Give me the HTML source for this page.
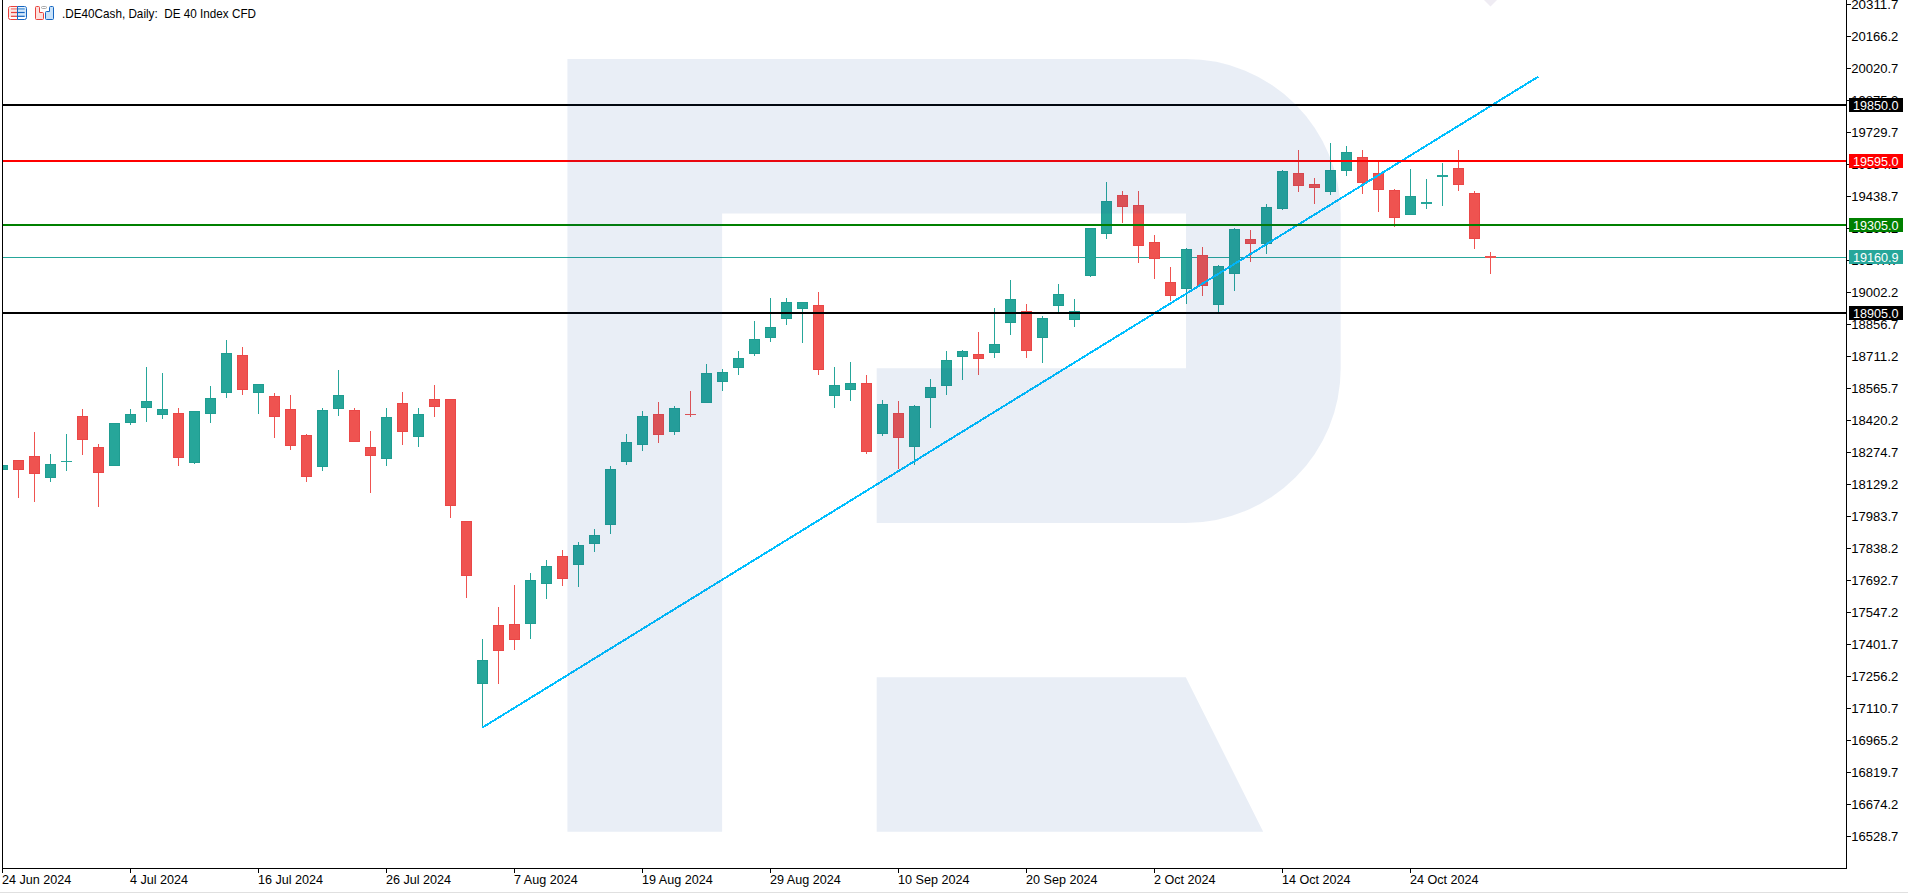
<!DOCTYPE html>
<html><head><meta charset="utf-8"><title>.DE40Cash, Daily</title>
<style>
html,body{margin:0;padding:0;background:#fff;}
body{width:1908px;height:893px;overflow:hidden;position:relative;}
svg{position:absolute;left:0;top:0;display:block;}
.t{font-family:"Liberation Sans",Arial,sans-serif;font-size:12.6px;fill:#000;}
.w{font-family:"Liberation Sans",Arial,sans-serif;font-size:12.6px;fill:#fff;}
</style></head>
<body>
<svg width="1908" height="893" viewBox="0 0 1908 893">
<rect x="0" y="0" width="1908" height="893" fill="#ffffff"/>
<rect x="0" y="892" width="1908" height="1" fill="#e0e0e0"/>
<defs><clipPath id="ca"><rect x="3" y="0" width="1843" height="868"/></clipPath></defs>
<g shape-rendering="crispEdges" clip-path="url(#ca)">
<!-- current price line -->
<rect x="3" y="257" width="1843" height="1" fill="#26a69a"/>
<rect x="2" y="465" width="1" height="5" fill="#26a69a"/>
<rect x="-3" y="465" width="11" height="5" fill="#1f9d91"/>
<rect x="-2" y="466" width="9" height="3" fill="#26a69a"/>
<rect x="18" y="460" width="1" height="38" fill="#ef5350"/>
<rect x="13" y="460" width="11" height="10" fill="#ea4747"/>
<rect x="14" y="461" width="9" height="8" fill="#ef5350"/>
<rect x="34" y="432" width="1" height="70" fill="#ef5350"/>
<rect x="29" y="456" width="11" height="18" fill="#ea4747"/>
<rect x="30" y="457" width="9" height="16" fill="#ef5350"/>
<rect x="50" y="454" width="1" height="28" fill="#26a69a"/>
<rect x="45" y="464" width="11" height="14" fill="#1f9d91"/>
<rect x="46" y="465" width="9" height="12" fill="#26a69a"/>
<rect x="66" y="434" width="1" height="37" fill="#26a69a"/>
<rect x="61" y="461" width="11" height="1" fill="#26a69a"/>
<rect x="82" y="409" width="1" height="46" fill="#ef5350"/>
<rect x="77" y="416" width="11" height="24" fill="#ea4747"/>
<rect x="78" y="417" width="9" height="22" fill="#ef5350"/>
<rect x="98" y="444" width="1" height="63" fill="#ef5350"/>
<rect x="93" y="447" width="11" height="26" fill="#ea4747"/>
<rect x="94" y="448" width="9" height="24" fill="#ef5350"/>
<rect x="114" y="423" width="1" height="43" fill="#26a69a"/>
<rect x="109" y="423" width="11" height="43" fill="#1f9d91"/>
<rect x="110" y="424" width="9" height="41" fill="#26a69a"/>
<rect x="130" y="409" width="1" height="16" fill="#26a69a"/>
<rect x="125" y="414" width="11" height="9" fill="#1f9d91"/>
<rect x="126" y="415" width="9" height="7" fill="#26a69a"/>
<rect x="146" y="367" width="1" height="55" fill="#26a69a"/>
<rect x="141" y="401" width="11" height="7" fill="#1f9d91"/>
<rect x="142" y="402" width="9" height="5" fill="#26a69a"/>
<rect x="162" y="373" width="1" height="46" fill="#26a69a"/>
<rect x="157" y="409" width="11" height="6" fill="#1f9d91"/>
<rect x="158" y="410" width="9" height="4" fill="#26a69a"/>
<rect x="178" y="408" width="1" height="58" fill="#ef5350"/>
<rect x="173" y="413" width="11" height="45" fill="#ea4747"/>
<rect x="174" y="414" width="9" height="43" fill="#ef5350"/>
<rect x="194" y="411" width="1" height="53" fill="#26a69a"/>
<rect x="189" y="411" width="11" height="52" fill="#1f9d91"/>
<rect x="190" y="412" width="9" height="50" fill="#26a69a"/>
<rect x="210" y="386" width="1" height="37" fill="#26a69a"/>
<rect x="205" y="398" width="11" height="16" fill="#1f9d91"/>
<rect x="206" y="399" width="9" height="14" fill="#26a69a"/>
<rect x="226" y="340" width="1" height="58" fill="#26a69a"/>
<rect x="221" y="353" width="11" height="40" fill="#1f9d91"/>
<rect x="222" y="354" width="9" height="38" fill="#26a69a"/>
<rect x="242" y="347" width="1" height="48" fill="#ef5350"/>
<rect x="237" y="355" width="11" height="35" fill="#ea4747"/>
<rect x="238" y="356" width="9" height="33" fill="#ef5350"/>
<rect x="258" y="384" width="1" height="30" fill="#26a69a"/>
<rect x="253" y="384" width="11" height="9" fill="#1f9d91"/>
<rect x="254" y="385" width="9" height="7" fill="#26a69a"/>
<rect x="274" y="393" width="1" height="45" fill="#ef5350"/>
<rect x="269" y="396" width="11" height="21" fill="#ea4747"/>
<rect x="270" y="397" width="9" height="19" fill="#ef5350"/>
<rect x="290" y="395" width="1" height="55" fill="#ef5350"/>
<rect x="285" y="409" width="11" height="37" fill="#ea4747"/>
<rect x="286" y="410" width="9" height="35" fill="#ef5350"/>
<rect x="306" y="434" width="1" height="48" fill="#ef5350"/>
<rect x="301" y="435" width="11" height="42" fill="#ea4747"/>
<rect x="302" y="436" width="9" height="40" fill="#ef5350"/>
<rect x="322" y="408" width="1" height="63" fill="#26a69a"/>
<rect x="317" y="410" width="11" height="57" fill="#1f9d91"/>
<rect x="318" y="411" width="9" height="55" fill="#26a69a"/>
<rect x="338" y="370" width="1" height="46" fill="#26a69a"/>
<rect x="333" y="395" width="11" height="14" fill="#1f9d91"/>
<rect x="334" y="396" width="9" height="12" fill="#26a69a"/>
<rect x="354" y="408" width="1" height="34" fill="#ef5350"/>
<rect x="349" y="410" width="11" height="32" fill="#ea4747"/>
<rect x="350" y="411" width="9" height="30" fill="#ef5350"/>
<rect x="370" y="431" width="1" height="62" fill="#ef5350"/>
<rect x="365" y="447" width="11" height="9" fill="#ea4747"/>
<rect x="366" y="448" width="9" height="7" fill="#ef5350"/>
<rect x="386" y="408" width="1" height="58" fill="#26a69a"/>
<rect x="381" y="417" width="11" height="42" fill="#1f9d91"/>
<rect x="382" y="418" width="9" height="40" fill="#26a69a"/>
<rect x="402" y="392" width="1" height="53" fill="#ef5350"/>
<rect x="397" y="403" width="11" height="29" fill="#ea4747"/>
<rect x="398" y="404" width="9" height="27" fill="#ef5350"/>
<rect x="418" y="408" width="1" height="39" fill="#26a69a"/>
<rect x="413" y="414" width="11" height="23" fill="#1f9d91"/>
<rect x="414" y="415" width="9" height="21" fill="#26a69a"/>
<rect x="434" y="385" width="1" height="32" fill="#ef5350"/>
<rect x="429" y="399" width="11" height="8" fill="#ea4747"/>
<rect x="430" y="400" width="9" height="6" fill="#ef5350"/>
<rect x="450" y="399" width="1" height="119" fill="#ef5350"/>
<rect x="445" y="399" width="11" height="107" fill="#ea4747"/>
<rect x="446" y="400" width="9" height="105" fill="#ef5350"/>
<rect x="466" y="521" width="1" height="77" fill="#ef5350"/>
<rect x="461" y="521" width="11" height="55" fill="#ea4747"/>
<rect x="462" y="522" width="9" height="53" fill="#ef5350"/>
<rect x="482" y="639" width="1" height="89" fill="#26a69a"/>
<rect x="477" y="660" width="11" height="24" fill="#1f9d91"/>
<rect x="478" y="661" width="9" height="22" fill="#26a69a"/>
<rect x="498" y="607" width="1" height="77" fill="#ef5350"/>
<rect x="493" y="625" width="11" height="26" fill="#ea4747"/>
<rect x="494" y="626" width="9" height="24" fill="#ef5350"/>
<rect x="514" y="585" width="1" height="65" fill="#ef5350"/>
<rect x="509" y="624" width="11" height="16" fill="#ea4747"/>
<rect x="510" y="625" width="9" height="14" fill="#ef5350"/>
<rect x="530" y="573" width="1" height="66" fill="#26a69a"/>
<rect x="525" y="580" width="11" height="44" fill="#1f9d91"/>
<rect x="526" y="581" width="9" height="42" fill="#26a69a"/>
<rect x="546" y="560" width="1" height="39" fill="#26a69a"/>
<rect x="541" y="566" width="11" height="18" fill="#1f9d91"/>
<rect x="542" y="567" width="9" height="16" fill="#26a69a"/>
<rect x="562" y="550" width="1" height="36" fill="#ef5350"/>
<rect x="557" y="556" width="11" height="23" fill="#ea4747"/>
<rect x="558" y="557" width="9" height="21" fill="#ef5350"/>
<rect x="578" y="542" width="1" height="45" fill="#26a69a"/>
<rect x="573" y="545" width="11" height="20" fill="#1f9d91"/>
<rect x="574" y="546" width="9" height="18" fill="#26a69a"/>
<rect x="594" y="529" width="1" height="23" fill="#26a69a"/>
<rect x="589" y="535" width="11" height="9" fill="#1f9d91"/>
<rect x="590" y="536" width="9" height="7" fill="#26a69a"/>
<rect x="610" y="466" width="1" height="68" fill="#26a69a"/>
<rect x="605" y="469" width="11" height="56" fill="#1f9d91"/>
<rect x="606" y="470" width="9" height="54" fill="#26a69a"/>
<rect x="626" y="434" width="1" height="31" fill="#26a69a"/>
<rect x="621" y="442" width="11" height="20" fill="#1f9d91"/>
<rect x="622" y="443" width="9" height="18" fill="#26a69a"/>
<rect x="642" y="411" width="1" height="40" fill="#26a69a"/>
<rect x="637" y="416" width="11" height="29" fill="#1f9d91"/>
<rect x="638" y="417" width="9" height="27" fill="#26a69a"/>
<rect x="658" y="402" width="1" height="41" fill="#ef5350"/>
<rect x="653" y="414" width="11" height="21" fill="#ea4747"/>
<rect x="654" y="415" width="9" height="19" fill="#ef5350"/>
<rect x="674" y="406" width="1" height="29" fill="#26a69a"/>
<rect x="669" y="408" width="11" height="24" fill="#1f9d91"/>
<rect x="670" y="409" width="9" height="22" fill="#26a69a"/>
<rect x="690" y="391" width="1" height="26" fill="#ef5350"/>
<rect x="685" y="414" width="11" height="1" fill="#ef5350"/>
<rect x="706" y="364" width="1" height="39" fill="#26a69a"/>
<rect x="701" y="373" width="11" height="30" fill="#1f9d91"/>
<rect x="702" y="374" width="9" height="28" fill="#26a69a"/>
<rect x="722" y="369" width="1" height="22" fill="#26a69a"/>
<rect x="717" y="372" width="11" height="10" fill="#1f9d91"/>
<rect x="718" y="373" width="9" height="8" fill="#26a69a"/>
<rect x="738" y="351" width="1" height="24" fill="#26a69a"/>
<rect x="733" y="358" width="11" height="10" fill="#1f9d91"/>
<rect x="734" y="359" width="9" height="8" fill="#26a69a"/>
<rect x="754" y="321" width="1" height="35" fill="#26a69a"/>
<rect x="749" y="339" width="11" height="15" fill="#1f9d91"/>
<rect x="750" y="340" width="9" height="13" fill="#26a69a"/>
<rect x="770" y="298" width="1" height="44" fill="#26a69a"/>
<rect x="765" y="327" width="11" height="11" fill="#1f9d91"/>
<rect x="766" y="328" width="9" height="9" fill="#26a69a"/>
<rect x="786" y="298" width="1" height="27" fill="#26a69a"/>
<rect x="781" y="302" width="11" height="17" fill="#1f9d91"/>
<rect x="782" y="303" width="9" height="15" fill="#26a69a"/>
<rect x="802" y="302" width="1" height="41" fill="#26a69a"/>
<rect x="797" y="302" width="11" height="7" fill="#1f9d91"/>
<rect x="798" y="303" width="9" height="5" fill="#26a69a"/>
<rect x="818" y="292" width="1" height="83" fill="#ef5350"/>
<rect x="813" y="305" width="11" height="65" fill="#ea4747"/>
<rect x="814" y="306" width="9" height="63" fill="#ef5350"/>
<rect x="834" y="367" width="1" height="41" fill="#26a69a"/>
<rect x="829" y="385" width="11" height="11" fill="#1f9d91"/>
<rect x="830" y="386" width="9" height="9" fill="#26a69a"/>
<rect x="850" y="362" width="1" height="39" fill="#26a69a"/>
<rect x="845" y="383" width="11" height="7" fill="#1f9d91"/>
<rect x="846" y="384" width="9" height="5" fill="#26a69a"/>
<rect x="866" y="375" width="1" height="79" fill="#ef5350"/>
<rect x="861" y="383" width="11" height="69" fill="#ea4747"/>
<rect x="862" y="384" width="9" height="67" fill="#ef5350"/>
<rect x="882" y="400" width="1" height="36" fill="#26a69a"/>
<rect x="877" y="404" width="11" height="30" fill="#1f9d91"/>
<rect x="878" y="405" width="9" height="28" fill="#26a69a"/>
<rect x="898" y="401" width="1" height="68" fill="#ef5350"/>
<rect x="893" y="413" width="11" height="25" fill="#ea4747"/>
<rect x="894" y="414" width="9" height="23" fill="#ef5350"/>
<rect x="914" y="405" width="1" height="60" fill="#26a69a"/>
<rect x="909" y="406" width="11" height="41" fill="#1f9d91"/>
<rect x="910" y="407" width="9" height="39" fill="#26a69a"/>
<rect x="930" y="379" width="1" height="49" fill="#26a69a"/>
<rect x="925" y="387" width="11" height="11" fill="#1f9d91"/>
<rect x="926" y="388" width="9" height="9" fill="#26a69a"/>
<rect x="946" y="351" width="1" height="44" fill="#26a69a"/>
<rect x="941" y="360" width="11" height="26" fill="#1f9d91"/>
<rect x="942" y="361" width="9" height="24" fill="#26a69a"/>
<rect x="962" y="350" width="1" height="30" fill="#26a69a"/>
<rect x="957" y="351" width="11" height="6" fill="#1f9d91"/>
<rect x="958" y="352" width="9" height="4" fill="#26a69a"/>
<rect x="978" y="332" width="1" height="43" fill="#ef5350"/>
<rect x="973" y="354" width="11" height="5" fill="#ea4747"/>
<rect x="974" y="355" width="9" height="3" fill="#ef5350"/>
<rect x="994" y="308" width="1" height="50" fill="#26a69a"/>
<rect x="989" y="344" width="11" height="9" fill="#1f9d91"/>
<rect x="990" y="345" width="9" height="7" fill="#26a69a"/>
<rect x="1010" y="280" width="1" height="55" fill="#26a69a"/>
<rect x="1005" y="299" width="11" height="24" fill="#1f9d91"/>
<rect x="1006" y="300" width="9" height="22" fill="#26a69a"/>
<rect x="1026" y="304" width="1" height="54" fill="#ef5350"/>
<rect x="1021" y="311" width="11" height="40" fill="#ea4747"/>
<rect x="1022" y="312" width="9" height="38" fill="#ef5350"/>
<rect x="1042" y="316" width="1" height="47" fill="#26a69a"/>
<rect x="1037" y="318" width="11" height="20" fill="#1f9d91"/>
<rect x="1038" y="319" width="9" height="18" fill="#26a69a"/>
<rect x="1058" y="284" width="1" height="28" fill="#26a69a"/>
<rect x="1053" y="294" width="11" height="12" fill="#1f9d91"/>
<rect x="1054" y="295" width="9" height="10" fill="#26a69a"/>
<rect x="1074" y="299" width="1" height="28" fill="#26a69a"/>
<rect x="1069" y="311" width="11" height="9" fill="#1f9d91"/>
<rect x="1070" y="312" width="9" height="7" fill="#26a69a"/>
<rect x="1090" y="228" width="1" height="49" fill="#26a69a"/>
<rect x="1085" y="228" width="11" height="48" fill="#1f9d91"/>
<rect x="1086" y="229" width="9" height="46" fill="#26a69a"/>
<rect x="1106" y="182" width="1" height="57" fill="#26a69a"/>
<rect x="1101" y="201" width="11" height="33" fill="#1f9d91"/>
<rect x="1102" y="202" width="9" height="31" fill="#26a69a"/>
<rect x="1122" y="191" width="1" height="32" fill="#ef5350"/>
<rect x="1117" y="195" width="11" height="12" fill="#ea4747"/>
<rect x="1118" y="196" width="9" height="10" fill="#ef5350"/>
<rect x="1138" y="191" width="1" height="72" fill="#ef5350"/>
<rect x="1133" y="205" width="11" height="41" fill="#ea4747"/>
<rect x="1134" y="206" width="9" height="39" fill="#ef5350"/>
<rect x="1154" y="235" width="1" height="44" fill="#ef5350"/>
<rect x="1149" y="242" width="11" height="17" fill="#ea4747"/>
<rect x="1150" y="243" width="9" height="15" fill="#ef5350"/>
<rect x="1170" y="267" width="1" height="34" fill="#ef5350"/>
<rect x="1165" y="282" width="11" height="14" fill="#ea4747"/>
<rect x="1166" y="283" width="9" height="12" fill="#ef5350"/>
<rect x="1186" y="248" width="1" height="56" fill="#26a69a"/>
<rect x="1181" y="249" width="11" height="40" fill="#1f9d91"/>
<rect x="1182" y="250" width="9" height="38" fill="#26a69a"/>
<rect x="1202" y="247" width="1" height="49" fill="#ef5350"/>
<rect x="1197" y="255" width="11" height="31" fill="#ea4747"/>
<rect x="1198" y="256" width="9" height="29" fill="#ef5350"/>
<rect x="1218" y="265" width="1" height="47" fill="#26a69a"/>
<rect x="1213" y="266" width="11" height="39" fill="#1f9d91"/>
<rect x="1214" y="267" width="9" height="37" fill="#26a69a"/>
<rect x="1234" y="228" width="1" height="63" fill="#26a69a"/>
<rect x="1229" y="229" width="11" height="45" fill="#1f9d91"/>
<rect x="1230" y="230" width="9" height="43" fill="#26a69a"/>
<rect x="1250" y="230" width="1" height="32" fill="#ef5350"/>
<rect x="1245" y="239" width="11" height="5" fill="#ea4747"/>
<rect x="1246" y="240" width="9" height="3" fill="#ef5350"/>
<rect x="1266" y="204" width="1" height="50" fill="#26a69a"/>
<rect x="1261" y="207" width="11" height="37" fill="#1f9d91"/>
<rect x="1262" y="208" width="9" height="35" fill="#26a69a"/>
<rect x="1282" y="170" width="1" height="40" fill="#26a69a"/>
<rect x="1277" y="171" width="11" height="38" fill="#1f9d91"/>
<rect x="1278" y="172" width="9" height="36" fill="#26a69a"/>
<rect x="1298" y="150" width="1" height="42" fill="#ef5350"/>
<rect x="1293" y="173" width="11" height="13" fill="#ea4747"/>
<rect x="1294" y="174" width="9" height="11" fill="#ef5350"/>
<rect x="1314" y="178" width="1" height="26" fill="#ef5350"/>
<rect x="1309" y="184" width="11" height="4" fill="#ea4747"/>
<rect x="1310" y="185" width="9" height="2" fill="#ef5350"/>
<rect x="1330" y="143" width="1" height="52" fill="#26a69a"/>
<rect x="1325" y="170" width="11" height="22" fill="#1f9d91"/>
<rect x="1326" y="171" width="9" height="20" fill="#26a69a"/>
<rect x="1346" y="146" width="1" height="30" fill="#26a69a"/>
<rect x="1341" y="152" width="11" height="19" fill="#1f9d91"/>
<rect x="1342" y="153" width="9" height="17" fill="#26a69a"/>
<rect x="1362" y="150" width="1" height="44" fill="#ef5350"/>
<rect x="1357" y="157" width="11" height="26" fill="#ea4747"/>
<rect x="1358" y="158" width="9" height="24" fill="#ef5350"/>
<rect x="1378" y="161" width="1" height="51" fill="#ef5350"/>
<rect x="1373" y="173" width="11" height="17" fill="#ea4747"/>
<rect x="1374" y="174" width="9" height="15" fill="#ef5350"/>
<rect x="1394" y="189" width="1" height="38" fill="#ef5350"/>
<rect x="1389" y="190" width="11" height="28" fill="#ea4747"/>
<rect x="1390" y="191" width="9" height="26" fill="#ef5350"/>
<rect x="1410" y="169" width="1" height="46" fill="#26a69a"/>
<rect x="1405" y="196" width="11" height="19" fill="#1f9d91"/>
<rect x="1406" y="197" width="9" height="17" fill="#26a69a"/>
<rect x="1426" y="179" width="1" height="30" fill="#26a69a"/>
<rect x="1421" y="202" width="11" height="2" fill="#26a69a"/>
<rect x="1442" y="163" width="1" height="43" fill="#26a69a"/>
<rect x="1437" y="175" width="11" height="2" fill="#26a69a"/>
<rect x="1458" y="150" width="1" height="41" fill="#ef5350"/>
<rect x="1453" y="168" width="11" height="17" fill="#ea4747"/>
<rect x="1454" y="169" width="9" height="15" fill="#ef5350"/>
<rect x="1474" y="191" width="1" height="58" fill="#ef5350"/>
<rect x="1469" y="193" width="11" height="46" fill="#ea4747"/>
<rect x="1470" y="194" width="9" height="44" fill="#ef5350"/>
<rect x="1490" y="252" width="1" height="22" fill="#ef5350"/>
<rect x="1485" y="256" width="11" height="2" fill="#ef5350"/>
</g>
<!-- trend line -->
<line x1="482.5" y1="727.5" x2="1538.5" y2="76.5" stroke="#00bfff" stroke-width="2" shape-rendering="crispEdges"/>
<g shape-rendering="crispEdges">
<rect x="3" y="104" width="1843" height="2" fill="#000000"/><rect x="3" y="160" width="1843" height="2" fill="#ff0000"/><rect x="3" y="224" width="1843" height="2" fill="#008000"/><rect x="3" y="312" width="1843" height="2" fill="#000000"/>
</g>
<!-- watermark -->
<path d="M567.4 58.9 H1186 A154.70000000000005 154.70000000000005 0 0 1 1340.7 213.60000000000005 V368.2 A154.70000000000005 154.70000000000005 0 0 1 1186 522.9000000000001 H876.7 V368.2 H1186 V213.5 H722.1 V831.8 H567.4 Z M876.7 677.2 H1185.8 L1263.2 831.8 H876.7 Z" fill="#1a4f9c" fill-opacity="0.095" fill-rule="evenodd"/>
<polygon points="1484,0 1497,0 1490.5,6.5" fill="#efecf3"/>
<g shape-rendering="crispEdges">
<!-- frame -->
<rect x="2" y="0" width="1" height="869" fill="#000"/>
<rect x="2" y="868" width="1845" height="1" fill="#000"/>
<rect x="1846" y="0" width="1" height="869" fill="#000"/>
<g fill="#000">
<rect x="1847" y="4" width="4" height="1"/>
<rect x="1847" y="36" width="4" height="1"/>
<rect x="1847" y="68" width="4" height="1"/>
<rect x="1847" y="100" width="4" height="1"/>
<rect x="1847" y="132" width="4" height="1"/>
<rect x="1847" y="164" width="4" height="1"/>
<rect x="1847" y="196" width="4" height="1"/>
<rect x="1847" y="228" width="4" height="1"/>
<rect x="1847" y="260" width="4" height="1"/>
<rect x="1847" y="292" width="4" height="1"/>
<rect x="1847" y="324" width="4" height="1"/>
<rect x="1847" y="356" width="4" height="1"/>
<rect x="1847" y="388" width="4" height="1"/>
<rect x="1847" y="420" width="4" height="1"/>
<rect x="1847" y="452" width="4" height="1"/>
<rect x="1847" y="484" width="4" height="1"/>
<rect x="1847" y="516" width="4" height="1"/>
<rect x="1847" y="548" width="4" height="1"/>
<rect x="1847" y="580" width="4" height="1"/>
<rect x="1847" y="612" width="4" height="1"/>
<rect x="1847" y="644" width="4" height="1"/>
<rect x="1847" y="676" width="4" height="1"/>
<rect x="1847" y="708" width="4" height="1"/>
<rect x="1847" y="740" width="4" height="1"/>
<rect x="1847" y="772" width="4" height="1"/>
<rect x="1847" y="804" width="4" height="1"/>
<rect x="1847" y="836" width="4" height="1"/>
<rect x="2" y="868" width="1" height="5"/>
<rect x="130" y="868" width="1" height="5"/>
<rect x="258" y="868" width="1" height="5"/>
<rect x="386" y="868" width="1" height="5"/>
<rect x="514" y="868" width="1" height="5"/>
<rect x="642" y="868" width="1" height="5"/>
<rect x="770" y="868" width="1" height="5"/>
<rect x="898" y="868" width="1" height="5"/>
<rect x="1026" y="868" width="1" height="5"/>
<rect x="1154" y="868" width="1" height="5"/>
<rect x="1282" y="868" width="1" height="5"/>
<rect x="1410" y="868" width="1" height="5"/>
</g>
</g>
<g class="t">
<text x="1851.2" y="9" textLength="47.2" lengthAdjust="spacingAndGlyphs">20311.7</text>
<text x="1851.2" y="41" textLength="47.2" lengthAdjust="spacingAndGlyphs">20166.2</text>
<text x="1851.2" y="73" textLength="47.2" lengthAdjust="spacingAndGlyphs">20020.7</text>
<text x="1851.2" y="105" textLength="47.2" lengthAdjust="spacingAndGlyphs">19875.2</text>
<text x="1851.2" y="137" textLength="47.2" lengthAdjust="spacingAndGlyphs">19729.7</text>
<text x="1851.2" y="169" textLength="47.2" lengthAdjust="spacingAndGlyphs">19584.2</text>
<text x="1851.2" y="201" textLength="47.2" lengthAdjust="spacingAndGlyphs">19438.7</text>
<text x="1851.2" y="233" textLength="47.2" lengthAdjust="spacingAndGlyphs">19293.2</text>
<text x="1851.2" y="265" textLength="47.2" lengthAdjust="spacingAndGlyphs">19147.7</text>
<text x="1851.2" y="297" textLength="47.2" lengthAdjust="spacingAndGlyphs">19002.2</text>
<text x="1851.2" y="329" textLength="47.2" lengthAdjust="spacingAndGlyphs">18856.7</text>
<text x="1851.2" y="361" textLength="47.2" lengthAdjust="spacingAndGlyphs">18711.2</text>
<text x="1851.2" y="393" textLength="47.2" lengthAdjust="spacingAndGlyphs">18565.7</text>
<text x="1851.2" y="425" textLength="47.2" lengthAdjust="spacingAndGlyphs">18420.2</text>
<text x="1851.2" y="457" textLength="47.2" lengthAdjust="spacingAndGlyphs">18274.7</text>
<text x="1851.2" y="489" textLength="47.2" lengthAdjust="spacingAndGlyphs">18129.2</text>
<text x="1851.2" y="521" textLength="47.2" lengthAdjust="spacingAndGlyphs">17983.7</text>
<text x="1851.2" y="553" textLength="47.2" lengthAdjust="spacingAndGlyphs">17838.2</text>
<text x="1851.2" y="585" textLength="47.2" lengthAdjust="spacingAndGlyphs">17692.7</text>
<text x="1851.2" y="617" textLength="47.2" lengthAdjust="spacingAndGlyphs">17547.2</text>
<text x="1851.2" y="649" textLength="47.2" lengthAdjust="spacingAndGlyphs">17401.7</text>
<text x="1851.2" y="681" textLength="47.2" lengthAdjust="spacingAndGlyphs">17256.2</text>
<text x="1851.2" y="713" textLength="47.2" lengthAdjust="spacingAndGlyphs">17110.7</text>
<text x="1851.2" y="745" textLength="47.2" lengthAdjust="spacingAndGlyphs">16965.2</text>
<text x="1851.2" y="777" textLength="47.2" lengthAdjust="spacingAndGlyphs">16819.7</text>
<text x="1851.2" y="809" textLength="47.2" lengthAdjust="spacingAndGlyphs">16674.2</text>
<text x="1851.2" y="841" textLength="47.2" lengthAdjust="spacingAndGlyphs">16528.7</text>
<text x="2" y="884">24 Jun 2024</text>
<text x="130" y="884">4 Jul 2024</text>
<text x="258" y="884">16 Jul 2024</text>
<text x="386" y="884">26 Jul 2024</text>
<text x="514" y="884">7 Aug 2024</text>
<text x="642" y="884">19 Aug 2024</text>
<text x="770" y="884">29 Aug 2024</text>
<text x="898" y="884">10 Sep 2024</text>
<text x="1026" y="884">20 Sep 2024</text>
<text x="1154" y="884">2 Oct 2024</text>
<text x="1282" y="884">14 Oct 2024</text>
<text x="1410" y="884">24 Oct 2024</text>
</g>
<g shape-rendering="crispEdges">
<rect x="1849" y="98" width="54" height="14" fill="#000000"/><rect x="1849" y="154" width="54" height="14" fill="#ff0000"/><rect x="1849" y="218" width="54" height="14" fill="#008000"/><rect x="1849" y="306" width="54" height="14" fill="#000000"/>
<rect x="1849" y="250" width="54" height="14" fill="#26a69a"/>
</g>
<g class="w">
<text x="1853" y="110">19850.0</text><text x="1853" y="166">19595.0</text><text x="1853" y="230">19305.0</text><text x="1853" y="318">18905.0</text>
<text x="1853" y="262">19160.9</text>
</g>
<!-- header -->
<g transform="translate(8,6)">
<path d="M9.5 0.5 H2.5 A2 2 0 0 0 0.5 2.5 V11.5 A2 2 0 0 0 2.5 13.5 H9.5 Z" fill="#fff" stroke="#e8413c"/>
<rect x="1" y="1.5" width="8.5" height="9.5" fill="#fde6e3"/>
<path d="M9.5 0.5 H16.5 A2 2 0 0 1 18.5 2.5 V11.5 A2 2 0 0 1 16.5 13.5 H9.5 Z" fill="#fff" stroke="#1565c0"/>
<rect x="10" y="1.5" width="8" height="9.5" fill="#d3e8fb"/>
<rect x="3" y="2.2" width="6" height="1.4" fill="#f08a86"/><rect x="3" y="5.9" width="6" height="1.2" fill="#e8413c"/><rect x="3" y="9.7" width="6" height="1.2" fill="#e8413c"/>
<rect x="10" y="2.2" width="6.7" height="1.4" fill="#5a9bd8"/><rect x="10" y="5.9" width="6.7" height="1.2" fill="#1565c0"/><rect x="10" y="9.7" width="6.7" height="1.2" fill="#1565c0"/>
</g>
<g transform="translate(35,6)">
<path d="M0.5 1.5 A1 1 0 0 1 1.5 0.5 H3.5 A1 1 0 0 1 4.5 1.5 V6.5 H7.5 A1 1 0 0 1 8.5 7.5 V12.5 A1 1 0 0 1 7.5 13.5 H1.5 A1 1 0 0 1 0.5 12.5 Z" fill="#fde0dc" stroke="#e8413c"/>
<path d="M18.5 1.5 A1 1 0 0 0 17.5 0.5 H15.5 A1 1 0 0 0 14.5 1.5 V5.5 H11.5 A1 1 0 0 0 10.5 6.5 V12.5 A1 1 0 0 0 11.5 13.5 H17.5 A1 1 0 0 0 18.5 12.5 Z" fill="#c8e2fa" stroke="#1565c0"/>
<rect x="6.5" y="0.5" width="5" height="2" rx="1" fill="none" stroke="#aaa"/>
</g>
<text class="t" x="62" y="18" textLength="194" lengthAdjust="spacingAndGlyphs">.DE40Cash, Daily:&#160; DE 40 Index CFD</text>
</svg>
</body></html>
